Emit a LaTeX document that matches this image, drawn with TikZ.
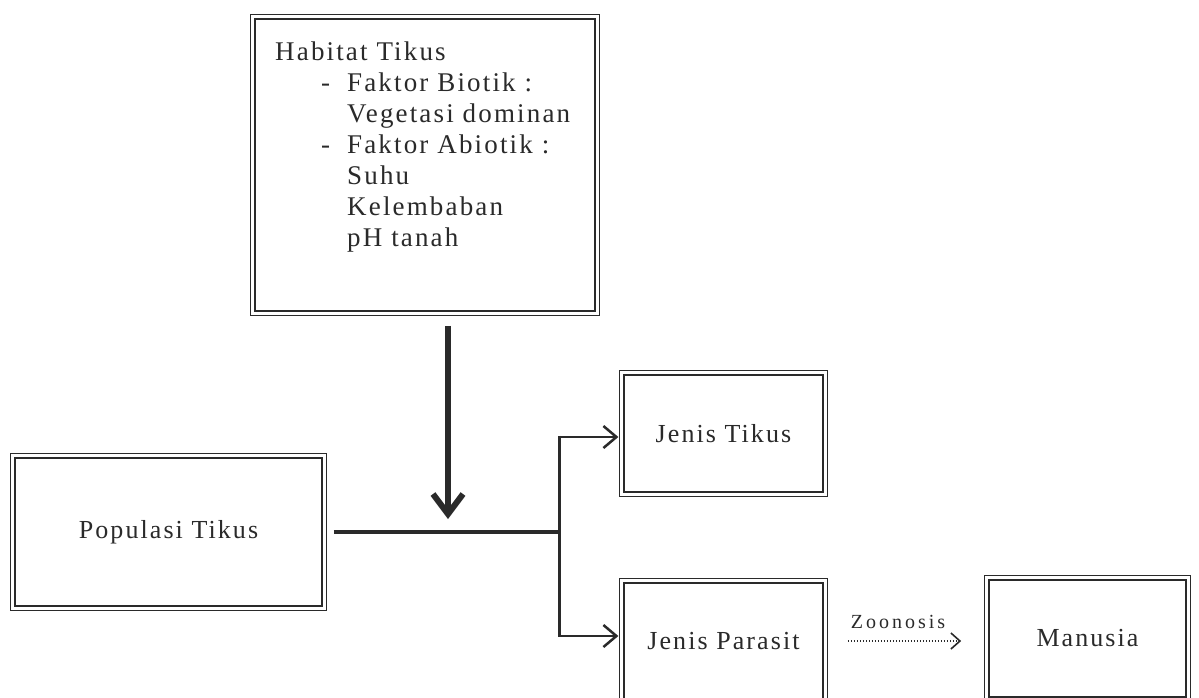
\documentclass[tikz,border=0pt]{standalone}
\usepackage{fontspec}
\setmainfont{Liberation Serif}[LetterSpace=8]
\usetikzlibrary{arrows.meta}
\definecolor{ink}{HTML}{2A2A2A}
\begin{document}
\begin{tikzpicture}[x=1pt,y=1pt,
  dbox/.style={draw=ink, line width=1.3pt, double=white, double distance=3pt,
    inner sep=0pt, text=ink, font=\fontsize{26}{27.5}\selectfont},
  txt/.style={inner sep=0pt, text=ink, font=\fontsize{27}{31}\selectfont},
  thick arrow/.style={draw=ink, line width=6pt, -{Straight Barb[length=20pt,width=30pt]}},
  branch arrow/.style={draw=ink, line width=2.5pt, -{Straight Barb[length=13pt,width=22pt]}},
  dotted arrow/.style={draw=ink, line width=1.3pt, dash pattern=on 1.3pt off 1.7pt,
    -{Straight Barb[length=9pt,width=16pt,line width=1.6pt]}}
]
\useasboundingbox (0,0) rectangle (1199,-697);
\fill[white] (0,0) rectangle (1199,-697);

% boxes
\node[dbox, minimum width=344.4pt, minimum height=296.4pt] (hab) at (425,-165) {};
\node[txt, anchor=base west] (habtxt) at (275,-60)
  {\begin{tabular}[t]{@{}p{72pt}@{}l@{}}
   \multicolumn{2}{@{}l@{}}{Habitat Tikus}\\
   \hspace*{46pt}- & Faktor Biotik :\\
    & Vegetasi dominan\\
   \hspace*{46pt}- & Faktor Abiotik :\\
    & Suhu\\
    & Kelembaban\\
    & pH tanah
   \end{tabular}};
\node[dbox, minimum width=311.4pt, minimum height=152.4pt] (pop) at (168.5,-532) {Populasi Tikus};
\node[dbox, minimum width=203.4pt, minimum height=121.4pt] (jt) at (723.5,-433.5) {Jenis Tikus};
\node[dbox, minimum width=203.4pt, minimum height=121.4pt] (jp) at (723.5,-641.5) {Jenis Parasit};
\node[dbox, minimum width=201.4pt, minimum height=121.4pt] (man) at (1087.5,-638.5) {Manusia};

% junction points
\coordinate (j) at (448,-532);
\coordinate (bm) at (559,-532);
\coordinate (b1) at (559,-437);
\coordinate (b2) at (559,-636);
\coordinate (z) at (900,-641);

% connectors
\draw[thick arrow, shorten <=12pt, shorten >=13pt] (hab.south -| j) -- (j);
\draw[draw=ink, line width=4pt, shorten <=9pt] (pop.east) -- ([xshift=1.5pt]bm);
\draw[draw=ink, line width=3pt] ([yshift=1.25pt]b1) -- ([yshift=-1.25pt]b2);
\draw[branch arrow, shorten >=2.8pt] (b1) -- (b1 -| jt.west);
\draw[branch arrow, shorten >=2.8pt] (b2) -- (b2 -| jp.west);
\draw[dotted arrow, shorten <=22pt, shorten >=25pt] (z -| jp.east) -- (z -| man.west);
\node[txt, font=\fontsize{20}{22}\selectfont\addfontfeature{LetterSpace=15}] (zlab) at (898,-622) {Zoonosis};
\end{tikzpicture}
\end{document}
